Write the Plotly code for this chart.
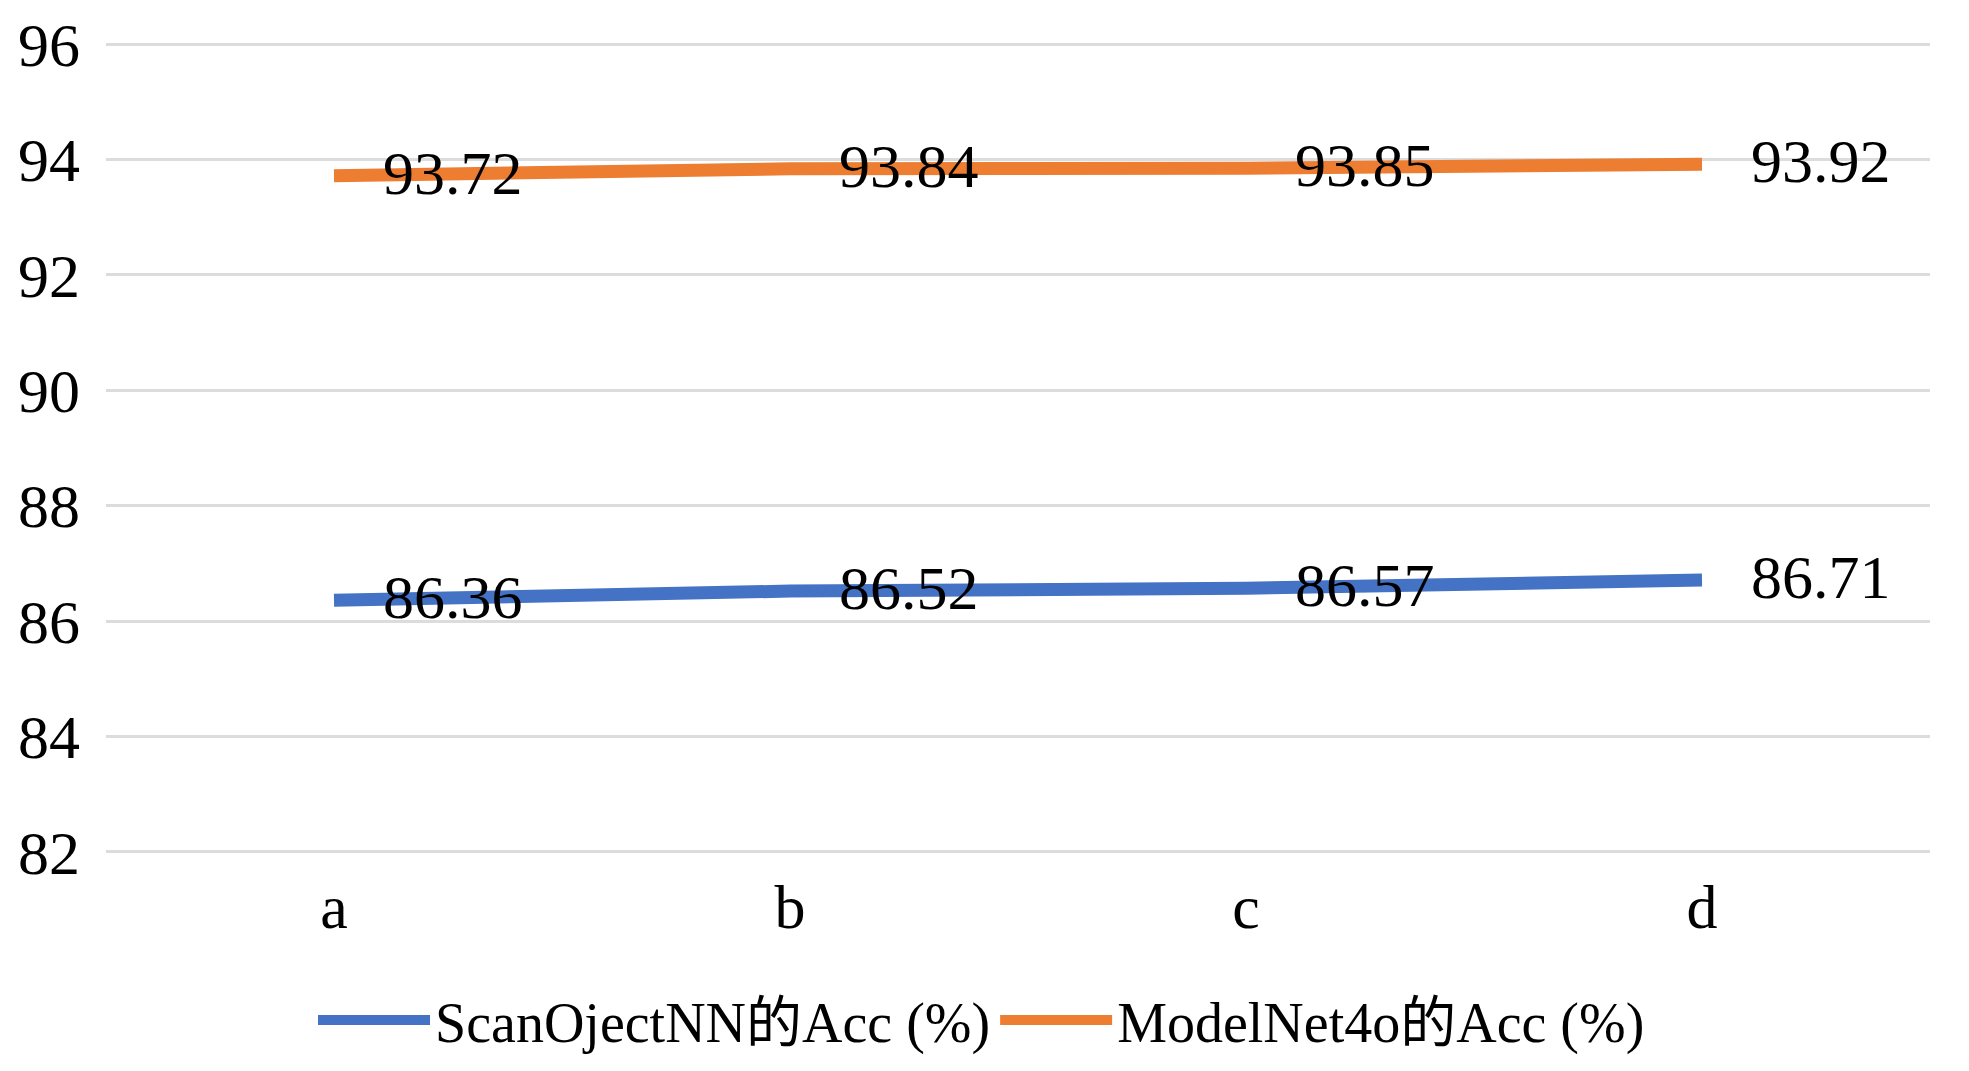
import plotly.graph_objects as go

categories = ["a", "b", "c", "d"]
scan_acc = [86.36, 86.52, 86.57, 86.71]
model_acc = [93.72, 93.84, 93.85, 93.92]
series_names = ["ScanOjectNN的Acc (%)", "ModelNet4o的Acc (%)"]
y_ticks = [82, 84, 86, 88, 90, 92, 94, 96]

BLUE = "#4472C4"
ORANGE = "#ED7D31"
FONT = "Liberation Serif, Times New Roman, Noto Sans CJK SC, serif"

fig = go.Figure()
for name, vals, col in [(series_names[0], scan_acc, BLUE), (series_names[1], model_acc, ORANGE)]:
    fig.add_trace(go.Scatter(x=categories, y=vals, mode="lines", name=name,
                             line=dict(color=col, width=13)))
    for c, v in zip(categories, vals):
        fig.add_annotation(x=c, y=v, text=f"{v:.2f}", showarrow=False,
                           xanchor="left", yanchor="middle", xshift=47, yshift=3,
                           font=dict(family=FONT, size=62, color="black"))

fig.update_layout(
    width=1969, height=1071,
    margin=dict(l=98, r=47, t=35, b=226),
    paper_bgcolor="white", plot_bgcolor="white",
    font=dict(family=FONT, size=62, color="black"),
    showlegend=True,
    legend=dict(orientation="h", x=0.48, xanchor="center", y=-0.2062, yanchor="middle",
                font=dict(family=FONT, size=56, color="black"),
                itemwidth=112, tracegroupgap=0),
)
fig.update_xaxes(type="category", range=[-0.5, 3.5], showgrid=False, showline=False,
                 zeroline=False, ticks="", tickfont=dict(size=62), ticklabelstandoff=12,
                 automargin=False)
fig.update_yaxes(range=[81.98, 96.02], tickvals=y_ticks, showgrid=True, gridcolor="#dcdcdc",
                 gridwidth=2.5, zeroline=False, showline=False, ticks="",
                 tickfont=dict(size=62), ticklabelstandoff=25, automargin=False,
                 ticklabeloverflow="allow")

fig.write_html("out.html")
